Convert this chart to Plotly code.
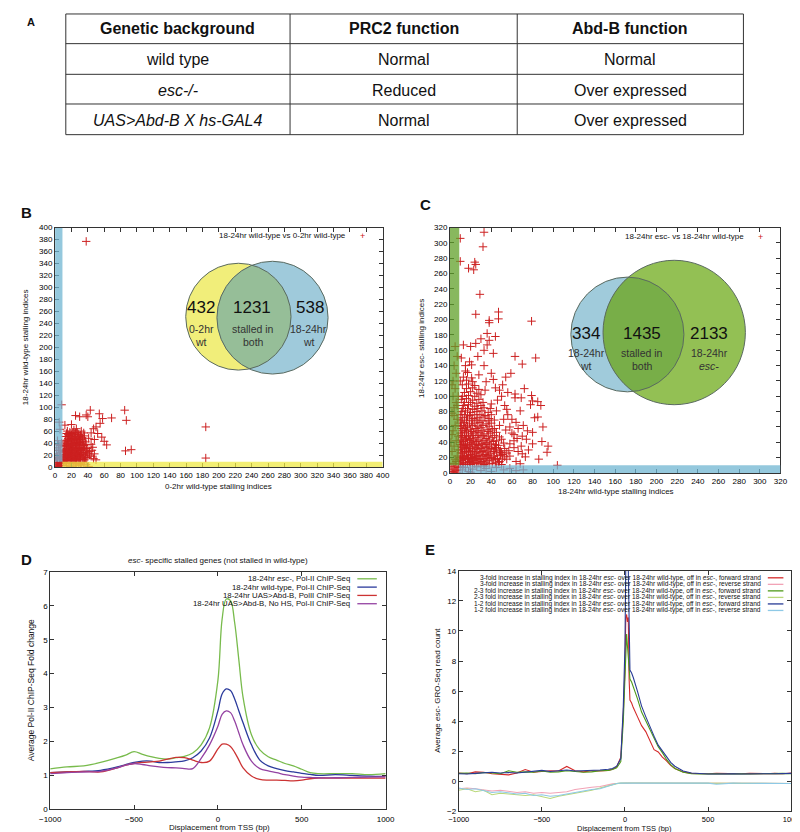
import math

import plotly.graph_objects as go

# ---------------- data ----------------
# panel A
table_header = ["Genetic background", "PRC2 function", "Abd-B function"]
table_rows = [
    ["wild type", "Normal", "Normal"],
    ["<i>esc-/-</i>", "Reduced", "Over expressed"],
    ["<i>UAS&gt;Abd-B X hs-GAL4</i>", "Normal", "Over expressed"],
]

# panel B: 0-2hr wt (x) vs 18-24hr wt (y) stalling indices
b_points = [
    (38, 377), (8, 104), (5, 75), (6, 63), (43, 95), (54, 89), (58, 81), (69, 82), (85, 95), (87, 78),
    (86, 27), (93, 29), (184, 67), (184, 15), (38, 87), (40, 84), (25, 86), (30, 84), (12, 70), (20, 71),
    (55, 73), (50, 67), (47, 64), (44, 57), (52, 56), (60, 43), (63, 37), (48, 46), (45, 28), (48, 22),
    (42, 20), (57, 50),
    (10, 10), (12, 13), (14, 11), (16, 15), (18, 12), (20, 16), (22, 11), (24, 14), (26, 12), (28, 17),
    (30, 13), (33, 15), (36, 12), (39, 16), (10, 18), (13, 21), (15, 19), (17, 23), (19, 20), (21, 24),
    (23, 19), (25, 22), (27, 20), (29, 25), (31, 21), (34, 24), (37, 20), (40, 23), (11, 26), (13, 29),
    (16, 27), (18, 31), (20, 28), (22, 32), (24, 27), (26, 30), (28, 28), (30, 33), (32, 29), (35, 31),
    (38, 28), (11, 34), (14, 37), (16, 35), (19, 38), (21, 35), (23, 39), (25, 36), (27, 40), (29, 37),
    (31, 41), (34, 38), (37, 42), (12, 42), (15, 45), (17, 43), (20, 47), (22, 44), (24, 48), (26, 45),
    (28, 50), (30, 46), (33, 49), (36, 52), (13, 51), (16, 54), (19, 52), (21, 56), (24, 55), (27, 58),
    (29, 54), (32, 60), (23, 62), (18, 58), (15, 60), (26, 64), (35, 57), (41, 48), (44, 38), (46, 33),
    (42, 26), (44, 18), (47, 14), (50, 12),
    (11, 12), (13, 16), (15, 13), (17, 17), (19, 14), (21, 12), (23, 16), (25, 13), (27, 15), (29, 12),
    (31, 17), (34, 13), (37, 15), (12, 20), (14, 23), (16, 21), (18, 25), (20, 22), (22, 19), (24, 24),
    (26, 21), (28, 23), (30, 19), (32, 22), (35, 20), (38, 24), (12, 28), (14, 31), (17, 29), (19, 33),
    (21, 30), (23, 27), (25, 31), (27, 29), (29, 32), (31, 27), (33, 30), (36, 33), (39, 31), (12, 36),
    (15, 39), (17, 37), (20, 40), (22, 37), (24, 41), (26, 38), (28, 42), (30, 39), (33, 43), (35, 36),
    (38, 37), (13, 44), (16, 48), (18, 46), (21, 49), (23, 46), (25, 51), (27, 47), (29, 51), (31, 48),
    (34, 45), (14, 56), (17, 52), (20, 54), (22, 58), (25, 57), (28, 55), (31, 53),
    (1, 12), (3, 16), (5, 20), (7, 24), (2, 28), (4, 32), (6, 36), (8, 40), (3, 44), (5, 14), (7, 18),
    (2, 22), (6, 28), (4, 38),
    (11, 3), (14, 6), (17, 2), (20, 5), (23, 8), (26, 3), (29, 6), (32, 2), (35, 7), (38, 4), (41, 1),
    (13, 8), (19, 1), (25, 6), (31, 4),
    (1, 1), (3, 4), (5, 2), (7, 6), (2, 7), (6, 8), (8, 3), (4, 1),
]
b_threshold = 9
b_venn_counts = ["432", "1231", "538"]
b_venn_labels = [["0-2hr", "wt"], ["stalled in", "both"], ["18-24hr", "wt"]]

# panel C: 18-24hr wt (x) vs 18-24hr esc- (y) stalling indices
c_points = [
    (33, 314), (32, 295), (10, 306), (10, 276), (24, 275), (25, 272), (18, 267), (23, 265), (29, 233),
    (47, 210), (47, 201), (38, 199), (38, 196), (79, 198), (25, 207), (36, 182), (44, 178), (38, 173),
    (36, 167), (25, 169), (20, 165), (13, 167), (42, 156), (33, 160), (63, 152), (83, 150), (70, 142),
    (27, 152), (21, 141), (15, 140), (59, 130), (54, 125), (17, 131), (28, 128), (35, 119), (44, 111),
    (51, 115), (63, 103), (63, 98), (69, 98), (79, 101), (80, 94), (85, 93), (88, 88), (78, 89), (85, 73),
    (68, 81), (55, 83), (45, 81), (89, 41), (95, 35), (94, 27), (86, 18), (80, 38), (80, 53), (69, 35),
    (73, 21), (104, 10), (62, 50), (62, 42), (57, 29), (55, 18), (50, 27), (44, 33),
    (40, 90), (46, 95), (50, 100), (53, 88), (56, 76), (60, 70), (64, 66), (58, 60), (66, 58), (71, 62),
    (75, 55), (48, 62), (52, 70), (54, 56), (60, 52), (65, 45), (70, 48), (74, 44), (58, 38), (62, 33),
    (66, 28), (70, 25), (76, 30), (48, 108), (40, 130), (33, 140), (30, 175), (42, 122), (56, 105),
    (72, 110), (82, 72), (90, 60), (58, 22), (64, 15), (68, 12),
    (10, 12), (13, 11), (17, 13), (20, 11), (24, 12), (28, 13), (33, 11), (38, 12), (44, 13), (50, 11),
    (11, 16), (15, 17), (19, 15), (23, 16), (27, 17), (31, 15), (36, 16), (42, 17), (48, 15),
    (10, 20), (14, 21), (18, 19), (22, 20), (26, 21), (30, 19), (35, 21), (40, 20), (46, 19), (53, 21),
    (12, 25), (16, 26), (20, 24), (24, 25), (29, 26), (34, 24), (39, 25), (45, 26), (51, 24),
    (10, 30), (14, 31), (18, 29), (22, 30), (27, 31), (32, 29), (37, 30), (43, 31), (49, 29),
    (11, 35), (15, 36), (19, 34), (24, 35), (28, 36), (33, 34), (38, 35), (47, 36),
    (10, 40), (13, 41), (17, 39), (21, 40), (26, 41), (31, 39), (36, 40), (42, 41), (52, 39),
    (12, 46), (16, 47), (20, 45), (25, 46), (30, 47), (35, 45), (41, 46), (48, 47),
    (10, 52), (14, 53), (18, 51), (23, 52), (28, 53), (33, 51), (39, 52), (45, 53),
    (11, 58), (15, 59), (20, 57), (25, 58), (30, 59), (36, 57), (43, 58),
    (10, 65), (14, 66), (19, 64), (24, 65), (29, 66), (35, 64), (40, 65),
    (12, 72), (17, 73), (22, 71), (27, 72), (33, 73), (38, 71),
    (11, 80), (15, 81), (20, 79), (26, 80), (31, 81), (37, 79),
    (13, 88), (18, 89), (24, 87), (30, 88), (11, 96), (16, 97), (22, 95), (28, 96),
    (14, 105), (20, 106), (26, 104), (12, 115), (18, 116), (24, 114), (13, 125), (21, 124),
    (12, 14), (15, 13), (19, 14), (22, 13), (26, 14), (30, 12), (35, 14), (41, 12), (47, 14),
    (10, 18), (13, 19), (17, 18), (21, 18), (25, 19), (29, 18), (33, 18), (38, 19), (44, 18), (51, 18),
    (12, 22), (16, 23), (20, 22), (24, 22), (28, 23), (32, 22), (37, 23), (43, 22), (49, 23),
    (11, 27), (14, 28), (18, 27), (22, 28), (26, 27), (31, 28), (36, 27), (42, 28), (48, 27), (55, 26),
    (12, 33), (16, 32), (20, 32), (25, 33), (30, 32), (35, 33), (40, 32), (45, 33), (53, 32),
    (10, 37), (13, 38), (17, 37), (22, 38), (26, 37), (31, 38), (35, 37), (40, 38), (44, 37),
    (11, 43), (15, 43), (19, 42), (23, 43), (28, 43), (33, 42), (38, 43), (45, 42), (50, 44),
    (11, 49), (14, 49), (18, 48), (22, 49), (27, 49), (32, 49), (37, 48), (43, 49),
    (12, 55), (16, 55), (21, 54), (26, 55), (31, 55), (37, 54), (41, 56),
    (10, 61), (13, 62), (17, 61), (22, 62), (27, 61), (32, 62), (38, 61),
    (11, 68), (16, 69), (21, 68), (26, 69), (31, 68), (37, 68), (43, 69),
    (10, 76), (14, 76), (19, 75), (24, 76), (29, 76), (34, 75), (40, 76),
    (12, 84), (17, 84), (22, 83), (27, 84), (33, 85), (39, 84),
    (14, 92), (20, 92), (26, 91), (32, 92), (12, 100), (18, 101), (24, 100), (30, 102),
    (16, 110), (22, 111), (28, 109), (34, 108), (10, 120), (16, 121), (22, 119), (15, 133), (19, 145),
    (11, 150),
    (3, 12), (5, 18), (7, 22), (2, 28), (4, 35), (6, 42), (8, 48), (3, 55), (5, 62), (7, 70), (2, 78),
    (4, 85), (6, 92), (8, 100), (5, 110), (3, 120), (6, 130), (4, 140), (7, 152), (5, 165), (3, 100),
    (2, 50), (6, 15), (1, 40), (8, 30), (4, 75), (7, 88), (2, 115),
    (12, 4), (15, 7), (18, 2), (22, 5), (26, 8), (30, 3), (35, 6), (40, 2), (45, 7), (52, 4), (58, 6),
    (64, 3), (71, 4), (10, 8), (20, 1), (33, 9),
    (2, 2), (4, 5), (6, 3), (8, 7), (1, 8), (3, 1), (5, 9), (7, 1),
]
c_threshold = 9
c_venn_counts = ["334", "1435", "2133"]
c_venn_labels = [["18-24hr", "wt"], ["stalled in", "both"], ["18-24hr", "<i>esc-</i>"]]

# panel D: average Pol-II ChIP-Seq fold change around TSS
d_x = [-1000, -900, -800, -700, -600, -550, -500, -450, -400, -350, -300, -250, -200, -150, -100, -50,
       0, 25, 50, 75, 100, 125, 150, 200, 250, 300, 350, 400, 450, 500, 550, 600, 700, 800, 900, 1000]
d_esc = [1.19, 1.25, 1.28, 1.38, 1.52, 1.6, 1.7, 1.62, 1.55, 1.5, 1.48, 1.52, 1.56, 1.66, 1.9, 2.4,
         3.8, 5.6, 6.2, 6.15, 5.5, 4.4, 3.3, 2.2, 1.75, 1.55, 1.45, 1.35, 1.28, 1.18, 1.08, 1.05, 1.05,
         1.05, 1.02, 1.05]
d_wt = [1.08, 1.1, 1.12, 1.15, 1.25, 1.32, 1.38, 1.42, 1.42, 1.38, 1.38, 1.4, 1.43, 1.52, 1.72, 2.1,
        2.9, 3.4, 3.55, 3.5, 3.25, 2.9, 2.55, 1.9, 1.45, 1.28, 1.2, 1.14, 1.1, 1.06, 1.03, 1.0, 1.02,
        1.0, 0.98, 0.97]
d_uas = [1.08, 1.1, 1.12, 1.1, 1.22, 1.3, 1.35, 1.38, 1.4, 1.42, 1.48, 1.53, 1.52, 1.45, 1.38, 1.42,
         1.78, 1.92, 1.92, 1.85, 1.68, 1.45, 1.22, 0.98, 0.88, 0.86, 0.86, 0.85, 0.84, 0.86, 0.9, 0.92,
         0.92, 0.92, 0.92, 0.92]
d_uas_nohs = [1.05, 1.08, 1.1, 1.12, 1.22, 1.3, 1.35, 1.32, 1.28, 1.25, 1.23, 1.22, 1.2, 1.2, 1.5, 1.9,
              2.45, 2.8, 2.9, 2.85, 2.6, 2.25, 1.9, 1.42, 1.2, 1.13, 1.08, 1.02, 0.98, 0.95, 0.94, 0.93,
              0.93, 0.94, 0.95, 0.96]
d_names = ["18-24hr <i>esc-</i>, Pol-II ChIP-Seq", "18-24hr wild-type, Pol-II ChIP-Seq",
           "18-24hr UAS&gt;Abd-B, PolII ChIP-Seq", "18-24hr UAS&gt;Abd-B, No HS, Pol-II ChIP-Seq"]
d_colors = ["#78bb4c", "#2b3b9c", "#cc3333", "#9442a2"]

# panel E: average esc- GRO-Seq read count around TSS
e_x = [-1000, -950, -900, -850, -800, -750, -700, -650, -600, -550, -500, -450, -400, -350, -300, -250,
       -200, -150, -100, -75, -50, -25, -10, 0, 5, 10, 15, 20, 25, 30, 40, 50, 75, 100, 125, 150, 175,
       200, 225, 250, 275, 300, 350, 400, 450, 500, 550, 600, 650, 700, 750, 800, 850, 900, 950, 1000]
e_3f_fwd = [0.55, 0.5, 0.62, 0.6, 0.5, 0.45, 0.42, 0.55, 0.78, 0.6, 0.65, 0.7, 0.68, 0.98, 0.7, 0.62,
            0.7, 0.68, 0.72, 0.8, 0.95, 1.6, 4.5, 7.5, 10.9, 11.1, 10.6, 10.9, 6.8, 5.4, 5.2, 4.9, 4.3,
            3.7, 3.3, 2.7, 2.1, 1.95, 1.6, 1.35, 1.05, 0.85, 0.62, 0.52, 0.5, 0.5, 0.52, 0.5, 0.48, 0.5,
            0.52, 0.5, 0.5, 0.52, 0.5, 0.55]
e_3f_rev = [-0.5, -0.45, -0.5, -0.55, -0.65, -0.6, -0.7, -0.75, -0.7, -0.8, -0.75, -0.8, -0.75, -0.7,
            -0.55, -0.45, -0.4, -0.35, -0.22, -0.18, -0.15, -0.12, -0.12, -0.12, -0.12, -0.12, -0.13,
            -0.12, -0.12, -0.13, -0.12, -0.12, -0.12, -0.13, -0.12, -0.12, -0.12, -0.13, -0.12, -0.12,
            -0.12, -0.13, -0.12, -0.12, -0.13, -0.12, -0.15, -0.14, -0.13, -0.13, -0.14, -0.14, -0.15,
            -0.14, -0.15, -0.15]
e_23f_fwd = [0.52, 0.55, 0.5, 0.58, 0.55, 0.5, 0.7, 0.6, 0.62, 0.6, 0.68, 0.6, 0.62, 0.7, 0.65, 0.6,
             0.62, 0.7, 0.72, 0.78, 0.9, 1.3, 4.0, 7.0, 9.5, 9.8, 9.0, 8.2, 7.2, 6.8, 6.6, 6.3, 5.5, 4.6,
             4.0, 3.4, 2.8, 2.3, 1.9, 1.45, 1.1, 0.85, 0.6, 0.5, 0.48, 0.5, 0.5, 0.48, 0.5, 0.5, 0.48,
             0.5, 0.5, 0.5, 0.52, 0.5]
e_23f_rev = [-0.6, -0.5, -0.7, -0.6, -0.9, -0.8, -0.85, -0.9, -0.95, -0.9, -1.05, -1.15, -1.0, -0.9,
             -0.85, -0.7, -0.6, -0.45, -0.3, -0.22, -0.16, -0.13, -0.12, -0.12, -0.12, -0.13, -0.12,
             -0.12, -0.12, -0.12, -0.13, -0.12, -0.12, -0.12, -0.13, -0.12, -0.12, -0.12, -0.12, -0.13,
             -0.12, -0.12, -0.12, -0.13, -0.12, -0.12, -0.14, -0.13, -0.14, -0.13, -0.14, -0.15, -0.14,
             -0.15, -0.14, -0.15]
e_12f_fwd = [0.5, 0.48, 0.52, 0.55, 0.6, 0.55, 0.58, 0.55, 0.62, 0.7, 0.72, 0.65, 0.7, 0.75, 0.68, 0.7,
             0.68, 0.75, 0.8, 0.85, 1.0, 1.5, 5.0, 9.0, 14.5, 15.5, 15.5, 14.2, 8.0, 7.4, 7.2, 6.9, 6.0,
             5.0, 4.3, 3.6, 3.0, 2.4, 2.0, 1.6, 1.25, 1.0, 0.68, 0.55, 0.5, 0.48, 0.48, 0.5, 0.5, 0.48,
             0.5, 0.52, 0.5, 0.5, 0.52, 0.52]
e_12f_rev = [-0.45, -0.55, -0.5, -0.6, -0.75, -0.7, -0.8, -0.85, -0.8, -0.95, -0.9, -1.0, -0.95, -0.85,
             -0.8, -0.65, -0.55, -0.5, -0.3, -0.2, -0.15, -0.12, -0.12, -0.12, -0.12, -0.12, -0.12,
             -0.13, -0.12, -0.12, -0.12, -0.13, -0.12, -0.12, -0.12, -0.12, -0.13, -0.12, -0.12, -0.12,
             -0.12, -0.12, -0.13, -0.12, -0.12, -0.13, -0.2, -0.14, -0.13, -0.14, -0.14, -0.14, -0.15,
             -0.15, -0.15, -0.15]
e_series = [e_3f_fwd, e_3f_rev, e_23f_fwd, e_23f_rev, e_12f_fwd, e_12f_rev]
e_names = [
    "3-fold increase in stalling index in 18-24hr <i>esc-</i> over 18-24hr wild-type, off in <i>esc-</i>, forward strand",
    "3-fold increase in stalling index in 18-24hr <i>esc-</i> over 18-24hr wild-type, off in <i>esc-</i>, reverse strand",
    "2-3 fold increase in stalling index in 18-24hr <i>esc-</i> over 18-24hr wild-type, off in <i>esc-</i>, forward strand",
    "2-3 fold increase in stalling index in 18-24hr <i>esc-</i> over 18-24hr wild-type, off in <i>esc-</i>, reverse strand",
    "1-2 fold increase in stalling index in 18-24hr <i>esc-</i> over 18-24hr wild-type, off in <i>esc-</i>, forward strand",
    "1-2 fold increase in stalling index in 18-24hr <i>esc-</i> over 18-24hr wild-type, off in <i>esc-</i>, reverse strand",
]
e_colors = ["#d42a2a", "#f2a3b6", "#4f9a1a", "#b9d87a", "#283c96", "#8ec9e6"]

# ---------------- helpers ----------------
W, H = 800, 832
FONT = "Liberation Sans, Arial, sans-serif"
NARROW = "Liberation Sans Narrow, Arial Narrow, Liberation Sans, sans-serif"
RED = "#cc2020"

annotations = []
shapes = []


def px(x):
    return x / W


def py(y):
    return 1 - y / H


def note(x, y, text, size, xanchor="center", family=FONT, color="#111", angle=0):
    annotations.append(dict(x=px(x), y=py(y), xref="paper", yref="paper", text=text, showarrow=False,
                            xanchor=xanchor, yanchor="middle", textangle=angle, borderpad=0,
                            font=dict(size=size, family=family, color=color)))


def seg(x0, y0, x1, y1, color="#333", width=1):
    shapes.append(dict(type="line", xref="paper", yref="paper", x0=px(x0), y0=py(y0), x1=px(x1),
                       y1=py(y1), line=dict(color=color, width=width), layer="above"))


def circle(cx, cy, r, fill, outline=None):
    shapes.append(dict(type="circle", xref="paper", yref="paper", x0=px(cx - r), x1=px(cx + r),
                       y0=py(cy + r), y1=py(cy - r), fillcolor=fill, layer="above",
                       line=dict(color=outline or "rgba(0,0,0,0)", width=1 if outline else 0)))


def lens(c1, r1, c2, r2, fill):
    dx, dy = c2[0] - c1[0], c2[1] - c1[1]
    d = math.hypot(dx, dy)
    a = (r1 ** 2 - r2 ** 2 + d ** 2) / (2 * d)
    h = math.sqrt(r1 ** 2 - a ** 2)
    t0 = math.atan2(dy, dx)
    al1 = math.atan2(h, a)
    al2 = math.atan2(h, d - a)
    pts = []
    for i in range(41):
        t = t0 - al1 + 2 * al1 * i / 40
        pts.append((c1[0] + r1 * math.cos(t), c1[1] + r1 * math.sin(t)))
    for i in range(41):
        t = t0 + math.pi - al2 + 2 * al2 * i / 40
        pts.append((c2[0] + r2 * math.cos(t), c2[1] + r2 * math.sin(t)))
    path = "M " + " L ".join(f"{px(x):.5f},{py(y):.5f}" for x, y in pts) + " Z"
    shapes.append(dict(type="path", xref="paper", yref="paper", path=path, fillcolor=fill,
                       line=dict(width=0), layer="above"))


def axis(domain, rng, dtick, anchor, size, standoff=0):
    return dict(domain=domain, range=rng, dtick=dtick, anchor=anchor, showgrid=False, zeroline=False,
                showline=True, linecolor="#333", linewidth=1, mirror="ticks", ticks="inside",
                ticklen=4, tickcolor="#333", tickangle=0, ticklabelstandoff=standoff,
                tickfont=dict(family=FONT, size=size, color="#000"))


fig = go.Figure()

# ---------------- panel A ----------------
note(12, 10, "<b>A</b>", 11)
tx0, tx1 = 48, 743
col_edges = [48, 278, 511, 743]
row_edges = [2, 32, 63, 93, 124]
shapes.append(dict(type="rect", xref="paper", yref="paper", x0=px(tx0), x1=px(tx1), y0=py(124),
                   y1=py(2), line=dict(color="#333", width=1)))
for y in row_edges[1:-1]:
    seg(tx0, y, tx1, y)
for x in col_edges[1:-1]:
    seg(x, 2, x, 124)
for j, head in enumerate(table_header):
    note((col_edges[j] + col_edges[j + 1]) / 2, 17, f"<b>{head}</b>", 16)
for i, row in enumerate(table_rows):
    for j, cell in enumerate(row):
        note((col_edges[j] + col_edges[j + 1]) / 2, (row_edges[i + 1] + row_edges[i + 2]) / 2 + 1,
             cell, 16)

# ---------------- panel B ----------------
fig.add_trace(go.Scatter(x=[p[0] for p in b_points], y=[p[1] for p in b_points], mode="markers",
                         marker=dict(symbol="cross-thin", size=6, line=dict(width=1, color=RED)),
                         xaxis="x", yaxis="y", showlegend=False))
shapes.append(dict(type="rect", xref="x", yref="y", x0=0, x1=b_threshold, y0=b_threshold, y1=400,
                   fillcolor="rgba(112,182,210,0.75)", line=dict(width=0), layer="above"))
shapes.append(dict(type="rect", xref="x", yref="y", x0=b_threshold, x1=400, y0=0, y1=b_threshold,
                   fillcolor="rgba(238,232,70,0.75)", line=dict(width=0), layer="above"))
circle(225, 308, 54, "#f1ee7a")
circle(260, 309, 57, "#9fcadb")
lens((225, 308), 54, (260, 309), 57, "#96be98")
circle(225, 308, 54, "rgba(0,0,0,0)", "#5a6a60")
circle(260, 309, 57, "rgba(0,0,0,0)", "#5a6a60")
note(187, 299, b_venn_counts[0], 17, color="#111")
note(239, 299, b_venn_counts[1], 17, color="#111")
note(298, 299, b_venn_counts[2], 17, color="#111")
for cx, lab in zip([187, 240, 297], b_venn_labels):
    note(cx, 320, lab[0], 10.5, color="#333")
    note(cx, 334, lab[1], 10.5, color="#333")
note(336, 226, "18-24hr wild-type vs 0-2hr wild-type", 8, xanchor="right", family=NARROW)
note(352, 226, "+", 9, color=RED)
note(8, 203, "<b>B</b>", 15)
note(205, 480, "0-2hr wild-type stalling indices", 8, family=NARROW)
note(6, 339, "18-24hr wild-type stalling indices", 8, family=NARROW, angle=-90)

# ---------------- panel C ----------------
fig.add_trace(go.Scatter(x=[p[0] for p in c_points], y=[p[1] for p in c_points], mode="markers",
                         marker=dict(symbol="cross-thin", size=6, line=dict(width=1, color=RED)),
                         xaxis="x2", yaxis="y2", showlegend=False))
shapes.append(dict(type="rect", xref="x2", yref="y2", x0=0, x1=c_threshold, y0=c_threshold + 1, y1=320,
                   fillcolor="rgba(96,160,40,0.75)", line=dict(width=0), layer="above"))
shapes.append(dict(type="rect", xref="x2", yref="y2", x0=c_threshold, x1=320, y0=0, y1=c_threshold + 1,
                   fillcolor="rgba(112,182,210,0.75)", line=dict(width=0), layer="above"))
circle(624, 326, 58, "#a0cbdb")
circle(672, 324, 73, "#93c054")
lens((624, 326), 58, (672, 324), 73, "#78ae48")
circle(624, 326, 58, "rgba(0,0,0,0)", "#5a6a60")
circle(672, 324, 73, "rgba(0,0,0,0)", "#5a6a60")
for cx, num, lab in zip([582, 639, 708], c_venn_counts, c_venn_labels):
    note(cx, 325, num, 17, color="#111")
    note(cx, 345, lab[0], 10.5, color="#333")
    note(cx, 358, lab[1], 10.5, color="#333")
note(745, 227, "18-24hr esc- vs 18-24hr wild-type", 8, xanchor="right", family=NARROW)
note(760, 227, "+", 9, color=RED)
note(417, 195, "<b>C</b>", 15)
note(612, 485, "18-24hr wild-type stalling indices", 8, family=NARROW)
note(413, 340, "18-24hr esc- stalling indices", 8, family=NARROW, angle=-90)

# ---------------- panel D ----------------
for ys, name, col in zip([d_esc, d_wt, d_uas, d_uas_nohs], d_names, d_colors):
    fig.add_trace(go.Scatter(x=d_x, y=ys, mode="lines", line=dict(color=col, width=1.3, shape="spline"),
                             xaxis="x3", yaxis="y3", showlegend=False, name=name))
for k, (name, col) in enumerate(zip(d_names, d_colors)):
    yy = 573 + 8.4 * k
    note(340, yy, name, 7.8, xanchor="right", family=NARROW)
    seg(347, yy, 367, yy, col, 1.3)
note(8, 553, "<b>D</b>", 15)
note(204, 555, "<i>esc-</i> specific stalled genes (not stalled in wild-type)", 8, family=NARROW)
note(206, 824, "Displacement from TSS (bp)", 8, family=NARROW)
note(12, 686, "Average Pol-II ChIP-Seq Fold change", 8.5, family=NARROW, angle=-90)

# ---------------- panel E ----------------
for ys, name, col in zip(e_series, e_names, e_colors):
    fig.add_trace(go.Scatter(x=e_x, y=ys, mode="lines", line=dict(color=col, width=1.1),
                             xaxis="x4", yaxis="y4", showlegend=False, name=name))
for k, (name, col) in enumerate(zip(e_names, e_colors)):
    yy = 572 + 6.6 * k
    note(762, yy, name, 6.6, xanchor="right", family=NARROW)
    seg(768, yy, 784, yy, col, 1.3)
note(422, 543, "<b>E</b>", 15)
note(621, 825, "Displacement from TSS (bp)", 7.5, family=NARROW)
note(429, 686, "Average <i>esc-</i> GRO-Seq read count", 8, family=NARROW, angle=-90)

fig.update_layout(
    width=W, height=H, margin=dict(l=0, r=0, t=0, b=0),
    paper_bgcolor="white", plot_bgcolor="white", showlegend=False,
    xaxis=axis([px(37), px(373)], [0, 400], 20, "y", 8),
    yaxis=axis([py(460), py(218)], [0, 400], 20, "x", 8),
    xaxis2=axis([px(442), px(781)], [0, 320], 20, "y2", 8),
    yaxis2=axis([py(466), py(218)], [0, 320], 20, "x2", 8),
    xaxis3=axis([px(32), px(376)], [-1000, 1000], 500, "y3", 8, standoff=2),
    yaxis3=axis([py(806), py(566)], [0, 7], 1, "x3", 8),
    xaxis4=axis([px(451), px(792)], [-1000, 1000], 500, "y4", 7.5, standoff=1),
    yaxis4=axis([py(808), py(565)], [-2, 14], 2, "x4", 8),
    annotations=annotations, shapes=shapes,
)

fig.write_html("out.html", config={"displayModeBar": False})
